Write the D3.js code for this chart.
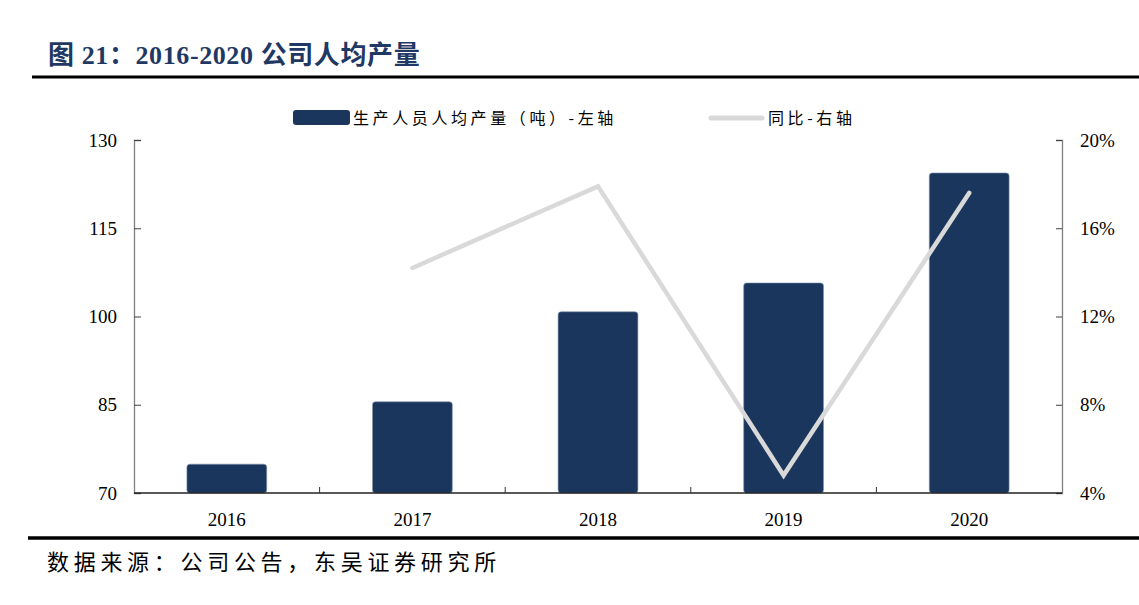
<!DOCTYPE html>
<html><head><meta charset="utf-8">
<script src="https://cdn.jsdelivr.net/npm/d3@7/dist/d3.min.js"></script>
<style>
body{margin:0;background:#fff;}
svg{display:block;}
</style></head>
<body>
<svg id="chart" width="1139" height="605"></svg>
<script>
const categories = ["2016","2017","2018","2019","2020"];
const outputPerCapita = [74.9, 85.5, 100.8, 105.7, 124.4];
const yoyGrowth = [null, 14.2, 17.9, 4.8, 17.6];
const leftTicks = [70, 85, 100, 115, 130];
const rightTicks = [4, 8, 12, 16, 20];
const titleText = "图 21：2016-2020 公司人均产量";
const legendBar = "生产人员人均产量（吨）-左轴";
const legendLine = "同比-右轴";
const sourceText = "数据来源：公司公告，东吴证券研究所";

const svg = d3.select("#chart");
const serif = "'Liberation Serif','Times New Roman',serif";
const cjk = "'Noto Sans CJK SC','Noto Sans',sans-serif";
const mixed = "'Liberation Serif','Noto Sans CJK SC',serif";
const navy = "#1b365d";

const L = 134, R = 1062, T = 140, B = 493;
const x = d3.scaleBand().domain(categories).range([L, R]).paddingInner(0.57).paddingOuter(0.285);
const xb = d3.scaleBand().domain(categories).range([L, R]);
const yL = d3.scaleLinear().domain([70, 130]).range([B, T]);
const yR = d3.scaleLinear().domain([4, 20]).range([B, T]);

// title
svg.append("text").attr("x", 48).attr("y", 64)
  .attr("font-family", mixed).attr("font-weight", "bold").attr("font-size", 26)
  .attr("letter-spacing", 0.6)
  .attr("fill", "#1f3864").text(titleText);
svg.append("line").attr("x1", 32).attr("x2", 1139).attr("y1", 77).attr("y2", 77)
  .attr("stroke", "#000").attr("stroke-width", 3);

// bars
svg.append("g").selectAll("rect").data(categories).join("rect")
  .attr("x", d => x(d))
  .attr("width", x.bandwidth())
  .attr("y", (d, i) => yL(outputPerCapita[i]))
  .attr("height", (d, i) => B - yL(outputPerCapita[i]))
  .attr("rx", 3)
  .attr("fill", navy)
  .attr("stroke", "#7f93ad").attr("stroke-width", 0.6);

// left axis
const gl = svg.append("g").attr("transform", `translate(${L},0)`)
  .call(d3.axisRight(yL).tickValues(leftTicks).tickSize(7).tickFormat(""));
gl.select(".domain").attr("stroke", "#7f7f7f").attr("stroke-width", 1.3);
gl.selectAll(".tick line").attr("stroke", "#404040");
svg.append("g").selectAll("text").data(leftTicks).join("text")
  .attr("x", 117).attr("y", d => yL(d)).attr("dy", "0.35em")
  .attr("text-anchor", "end").attr("font-family", serif).attr("font-size", 19)
  .attr("fill", "#000").text(d => d);

// right axis
const gr = svg.append("g").attr("transform", `translate(${R},0)`)
  .call(d3.axisLeft(yR).tickValues(rightTicks).tickSize(6).tickFormat(""));
gr.select(".domain").attr("stroke", "#7f7f7f").attr("stroke-width", 1.3);
gr.selectAll(".tick line").attr("stroke", "#404040");
svg.append("g").selectAll("text").data(rightTicks).join("text")
  .attr("x", 1080).attr("y", d => yR(d)).attr("dy", "0.35em")
  .attr("text-anchor", "start").attr("font-family", serif).attr("font-size", 19)
  .attr("fill", "#000").text(d => d + "%");

// x axis
const boundaries = categories.slice(1).map(c => xb(c));
const gx = svg.append("g");
gx.append("line").attr("x1", L).attr("x2", R).attr("y1", B).attr("y2", B)
  .attr("stroke", "#222").attr("stroke-width", 1.3);
gx.selectAll("line.tk").data(boundaries).join("line").attr("class", "tk")
  .attr("x1", d => d).attr("x2", d => d).attr("y1", B).attr("y2", B - 6)
  .attr("stroke", "#333");
gx.selectAll("text").data(categories).join("text")
  .attr("x", d => xb(d) + xb.bandwidth() / 2).attr("y", 526)
  .attr("text-anchor", "middle").attr("font-family", serif).attr("font-size", 19)
  .attr("fill", "#000").text(d => d);

// line
const pts = categories.map((c, i) => [c, yoyGrowth[i]]).filter(d => d[1] != null);
svg.append("path").datum(pts)
  .attr("d", d3.line().x(d => xb(d[0]) + xb.bandwidth() / 2).y(d => yR(d[1])))
  .attr("fill", "none").attr("stroke", "#d9d9d9").attr("stroke-width", 4.5)
  .attr("stroke-linecap", "round").attr("stroke-linejoin", "miter");

// legend
svg.append("rect").attr("x", 293).attr("y", 110).attr("width", 57).attr("height", 15)
  .attr("rx", 3).attr("fill", navy);
svg.append("text").attr("x", 353).attr("y", 118).attr("dy", "0.35em")
  .attr("font-family", cjk).attr("font-size", 16).attr("letter-spacing", 3.6)
  .attr("fill", "#000").text(legendBar);
svg.append("line").attr("x1", 711).attr("x2", 762).attr("y1", 118).attr("y2", 118)
  .attr("stroke", "#d9d9d9").attr("stroke-width", 5).attr("stroke-linecap", "round");
svg.append("text").attr("x", 768).attr("y", 118).attr("dy", "0.35em")
  .attr("font-family", cjk).attr("font-size", 16).attr("letter-spacing", 3.6)
  .attr("fill", "#000").text(legendLine);

// bottom rule + source
svg.append("line").attr("x1", 28).attr("x2", 1139).attr("y1", 538).attr("y2", 538)
  .attr("stroke", "#000").attr("stroke-width", 3.5);
svg.append("text").attr("x", 47).attr("y", 562).attr("dy", "0.35em")
  .attr("font-family", cjk).attr("font-size", 22).attr("letter-spacing", 4.7)
  .attr("fill", "#000").text(sourceText);
</script>
</body></html>
